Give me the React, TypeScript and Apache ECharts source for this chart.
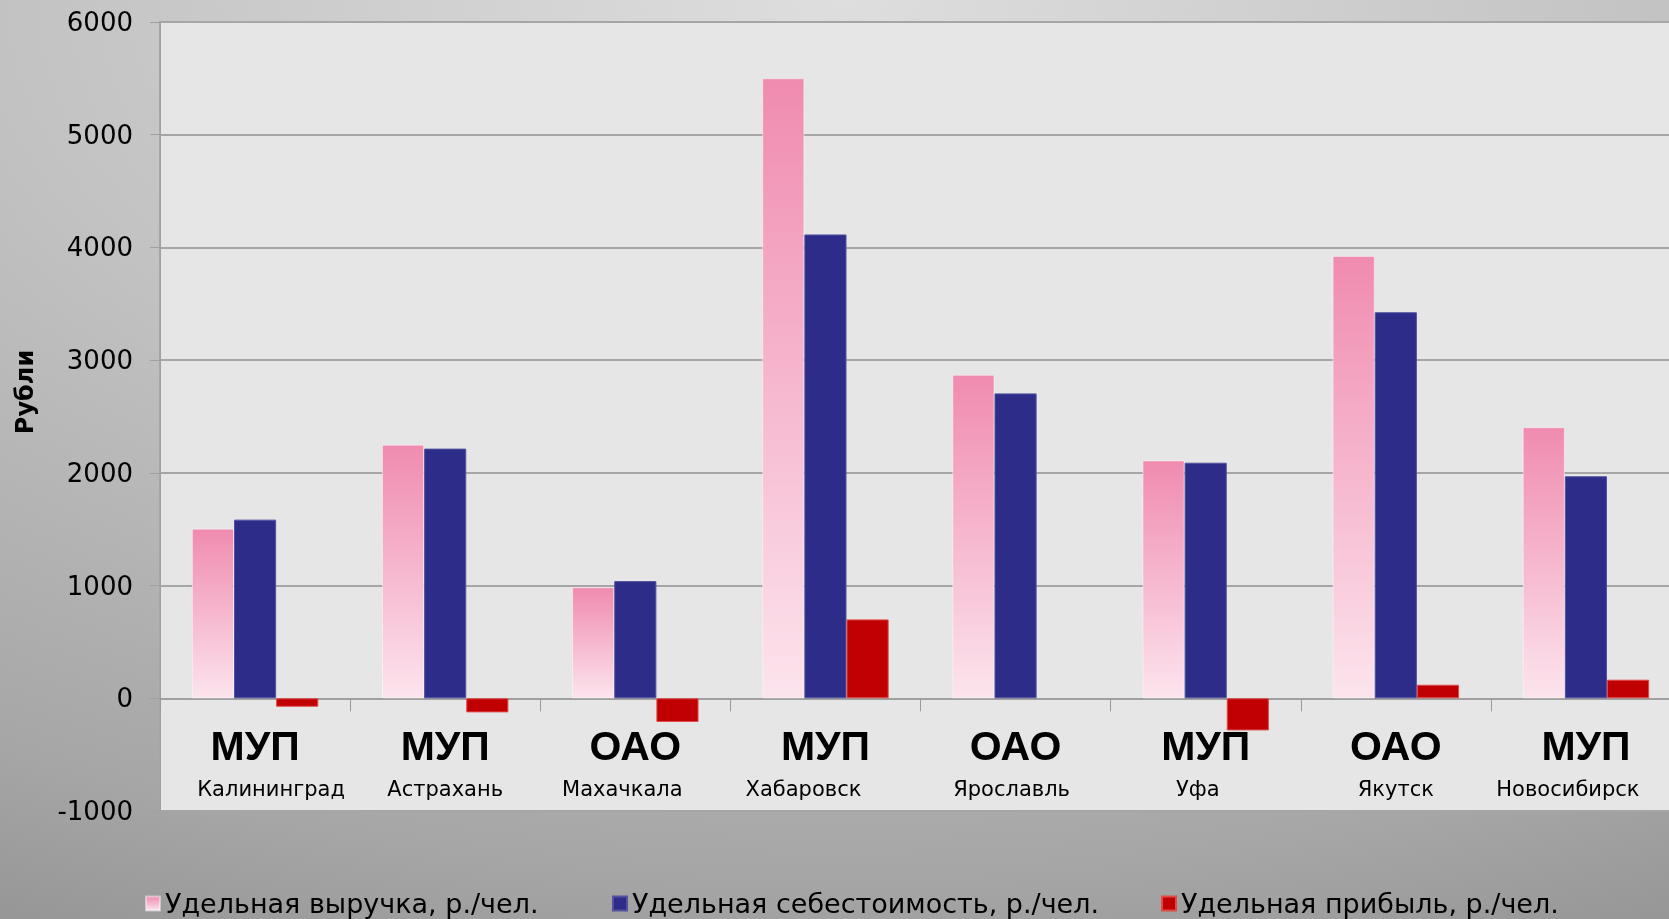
import React, { useEffect, useRef } from 'react';
import * as echarts from 'echarts';

// ---- data ----
const orgTypes = ['МУП', 'МУП', 'ОАО', 'МУП', 'ОАО', 'МУП', 'ОАО', 'МУП'];
const cities = ['Калининград', 'Астрахань', 'Махачкала', 'Хабаровск', 'Ярославль', 'Уфа', 'Якутск', 'Новосибирск'];
const seriesNames = ['Удельная выручка, р./чел.', 'Удельная себестоимость, р./чел.', 'Удельная прибыль, р./чел.'];
const revenue = [1505, 2250, 985, 5500, 2870, 2110, 3925, 2405];
const cost = [1585, 2215, 1040, 4115, 2705, 2090, 3425, 1970];
const profit = [-75, -125, -210, 700, null, -285, 120, 165];
const yTicks = [-1000, 0, 1000, 2000, 3000, 4000, 5000, 6000];
const yAxisTitle = 'Рубли';

// ---- layout / style (not data) ----
const CHART_W = 1681;
const CHART_H = 919;
const cityNudge = [16, 0, -13, -22, -4, -8, 0, -18];
const legendLeft = [145, 612, 1161];

const pinkGradient = {
  type: 'linear', x: 0, y: 0, x2: 0, y2: 1,
  colorStops: [
    { offset: 0, color: '#f08bb0' },
    { offset: 1, color: '#fce4ed' },
  ],
};

export default function App() {
  const ref = useRef<HTMLDivElement>(null);
  useEffect(() => {
    document.documentElement.style.overflow = 'hidden';
    document.body.style.overflow = 'hidden';
    const chart = echarts.init(ref.current as HTMLDivElement, null, { renderer: 'svg' });
    const rich: any = {
      org: { fontFamily: 'Liberation Sans', fontWeight: 'bold', fontSize: 41, lineHeight: 44, color: '#000' },
    };
    cities.forEach((_, i) => {
      const s = cityNudge[i];
      rich['c' + i] = {
        fontFamily: 'DejaVu Sans', fontSize: 21, lineHeight: 42, color: '#000',
        padding: s >= 0 ? [0, 0, 0, 2 * s] : [0, -2 * s, 0, 0],
      };
    });
    const barColors = [pinkGradient, '#2d2d89', '#c00000'];
    const barBorders = ['rgba(255,255,255,0.45)', '#5252a0', '#e04a4a'];
    const datasets = [revenue, cost, profit];
    const option: any = {
      animation: false,
      graphic: [
        {
          type: 'rect', z: -100, silent: true,
          shape: { x: 0, y: 0, width: CHART_W, height: CHART_H },
          style: {
            fill: {
              type: 'radial', x: 0.5, y: 0, r: 1.12,
              colorStops: [
                { offset: 0, color: '#dedede' },
                { offset: 0.45, color: '#c2c2c2' },
                { offset: 0.85, color: '#a6a6a6' },
                { offset: 1, color: '#969696' },
              ],
            },
          },
        },
        {
          type: 'text', x: 25, y: 392, rotation: Math.PI / 2, z: 10,
          style: {
            text: yAxisTitle, fontFamily: 'DejaVu Sans', fontWeight: 'bold', fontSize: 24,
            fill: '#000', align: 'center', verticalAlign: 'middle',
          },
        },
      ],
      grid: {
        left: 160, top: 22, width: 1521, height: 789,
        show: true, backgroundColor: '#e6e6e6', borderWidth: 2, borderColor: '#a6a6a6',
      },
      legend: seriesNames.map((n, i) => ({
        data: [n], left: legendLeft[i], top: 890, icon: 'rect',
        itemWidth: 14, itemHeight: 14, padding: 0,
        textStyle: { fontFamily: 'DejaVu Sans', fontSize: 27, color: '#000' },
      })),
      xAxis: {
        type: 'category', data: cities,
        axisLine: { show: true, onZero: true, lineStyle: { color: '#a0a0a0', width: 2 } },
        axisTick: { show: true, length: 13, lineStyle: { color: '#9a9a9a', width: 1 } },
        axisLabel: {
          interval: 0, margin: -87,
          formatter: (_v: string, i: number) => `{org|${orgTypes[i]}}\n{c${i}|${cities[i]}}`,
          rich,
        },
        splitLine: { show: false },
      },
      yAxis: {
        type: 'value', min: yTicks[0], max: yTicks[yTicks.length - 1], interval: 1000,
        axisLine: { show: true, lineStyle: { color: '#a0a0a0', width: 1 } },
        axisTick: { show: true, length: 10, lineStyle: { color: '#a0a0a0' } },
        axisLabel: {
          margin: 27, fontFamily: 'DejaVu Sans', fontSize: 26, color: '#000',
          formatter: (v: number) => String(v),
        },
        splitLine: { show: true, showMinLine: true, lineStyle: { color: '#a6a6a6', width: 2 } },
      },
      series: seriesNames.map((n, i) => ({
        name: n, type: 'bar', data: datasets[i],
        barGap: '0%', barCategoryGap: '33.5%',
        itemStyle: { color: barColors[i], borderColor: barBorders[i], borderWidth: 1 },
      })),
    };
    chart.setOption(option);
    return () => chart.dispose();
  }, []);
  return <div ref={ref} style={{ position: 'fixed', left: 0, top: 0, width: CHART_W, height: CHART_H }} />;
}
